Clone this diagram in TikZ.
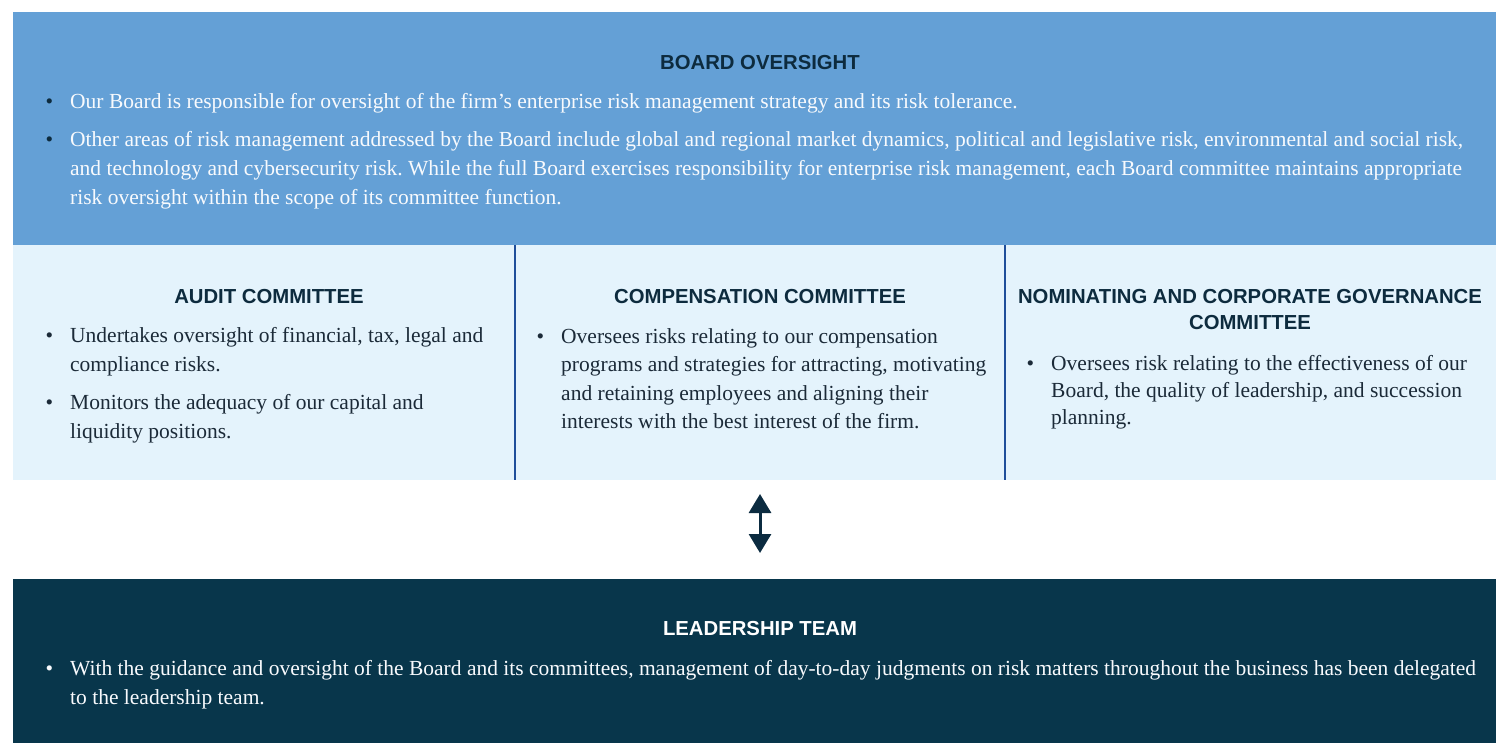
\documentclass[tikz,border=0pt]{standalone}
\usepackage{fontspec}
\setmainfont{Liberation Serif}
\setsansfont{Liberation Sans}
\usetikzlibrary{arrows.meta}
\frenchspacing
\definecolor{boardblue}{HTML}{64A0D6}
\definecolor{bandblue}{HTML}{E4F3FC}
\definecolor{divblue}{HTML}{1F4E9A}
\definecolor{leadnavy}{HTML}{08364B}
\definecolor{headc}{HTML}{0D2B3E}
\definecolor{bodyc}{HTML}{1B2A38}
\definecolor{arrowc}{HTML}{0B2B40}
\definecolor{whitetext}{HTML}{F8FAFD}
\newcommand\mybul[1]{\llap{\textcolor{#1}{\textbullet}\hspace{17pt}}}
\tikzset{
  panel/.style={draw=none, inner sep=0pt, outer sep=0pt, anchor=north west},
  head/.style={font=\sffamily\bfseries\fontsize{20.3}{25}\selectfont, text=headc, align=center, inner sep=0pt, anchor=base},
  bodytxt/.style={font=\fontsize{21.5}{29}\selectfont, align=left, inner sep=0pt, anchor=base west},
  divider/.style={draw=divblue, line width=2pt},
  twoarrow/.style={draw=arrowc, line width=3pt, {Triangle[width=22pt,length=19pt]}-{Triangle[width=22pt,length=19pt]}}
}
\begin{document}
\begin{tikzpicture}[x=1pt,y=-1pt]
\useasboundingbox (0,0) rectangle (1496,743);
% panels
\node[panel, fill=boardblue, minimum width=1483pt, minimum height=233pt] (board) at (13,12) {};
\node[panel, fill=bandblue, minimum width=502pt, minimum height=235pt] (audit) at (13,245) {};
\node[panel, fill=bandblue, minimum width=490pt, minimum height=235pt] (comp) at (515,245) {};
\node[panel, fill=bandblue, minimum width=491pt, minimum height=235pt] (nom) at (1005,245) {};
\node[panel, fill=leadnavy, minimum width=1483pt, minimum height=164pt] (lead) at (13,579) {};
\draw[divider] (audit.north east) -- (audit.south east);
\draw[divider] (comp.north east) -- (comp.south east);
\draw[twoarrow, shorten <=14pt, shorten >=26pt] (comp.south) -- (comp.south |- lead.north);
% board text (base anchor = last line baseline)
\node[head] (boardhead) at (760,70) {BOARD OVERSIGHT};
\node[bodytxt, text=whitetext] (b1) at (70,109) {\mybul{headc}Our Board is responsible for oversight of the firm’s enterprise risk management strategy and its risk tolerance.};
\node[bodytxt, text=whitetext] (b2) at (70,205) {\mybul{headc}Other areas of risk management addressed by the Board include global and regional market dynamics, political and legislative risk, environmental and social risk,\\
and technology and cybersecurity risk. While the full Board exercises responsibility for enterprise risk management, each Board committee maintains appropriate\\
risk oversight within the scope of its committee function.};
% audit
\node[head] (audithead) at (269,304) {AUDIT COMMITTEE};
\node[bodytxt, text=bodyc] (a1) at (70,371) {\mybul{bodyc}Undertakes oversight of financial, tax, legal and\\ compliance risks.};
\node[bodytxt, text=bodyc] (a2) at (70,438) {\mybul{bodyc}Monitors the adequacy of our capital and\\ liquidity positions.};
% compensation
\node[head] (comphead) at (760,304) {COMPENSATION COMMITTEE};
\node[bodytxt, text=bodyc, font=\fontsize{21.5}{28.5}\selectfont] (c1) at (561,428.5) {\mybul{bodyc}Oversees risks relating to our compensation\\ programs and strategies for attracting, motivating\\ and retaining employees and aligning their\\ interests with the best interest of the firm.};
% nominating
\node[head] (nomhead) at (1250,329) {NOMINATING AND CORPORATE GOVERNANCE\\ COMMITTEE};
\node[bodytxt, text=bodyc, font=\fontsize{21.5}{27}\selectfont] (n1) at (1051,424) {\mybul{bodyc}Oversees risk relating to the effectiveness of our\\ Board, the quality of leadership, and succession\\ planning.};
% leadership
\node[head, text=white] (leadhead) at (760,635) {LEADERSHIP TEAM};
\node[bodytxt, text=whitetext] (l1) at (70,704) {\mybul{whitetext}With the guidance and oversight of the Board and its committees, management of day-to-day judgments on risk matters throughout the business has been delegated\\ to the leadership team.};
\end{tikzpicture}
\end{document}
